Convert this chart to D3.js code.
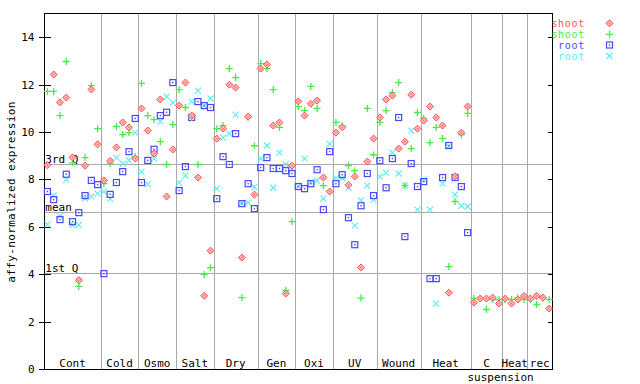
<!DOCTYPE html>
<html><head><meta charset="utf-8">
<script src="https://cdn.jsdelivr.net/npm/d3@7"></script>
<style>
body{margin:0;background:#fff;}
svg text{font-family:"DejaVu Sans Mono",monospace;font-size:11px;fill:#000;}
</style></head>
<body><svg id="c" width="640" height="384"></svg>
<script>
// groups: label and number of samples
const groupLabels = ["Cont","Cold","Osmo","Salt","Dry","Gen","Oxi","UV","Wound","Heat","C","Heat","rec"];
const groupSizes  = [9,6,6,6,7,6,6,7,7,8,5,4,4];
const seriesNames = ["shoot","shoot","root","root"];
const yTicks = [0,2,4,6,8,10,12,14];
const quantiles = [{label:"3rd Q",v:8.67},{label:"mean",v:6.62},{label:"1st Q",v:4.07}];

const shoot1 = [8.60,12.42,11.25,11.45,8.93,3.75,8.58,11.79,9.48,
 7.96,8.78,9.35,10.40,10.19,8.88,
 10.99,10.06,9.09,11.37,7.28,9.26,
 11.11,12.08,10.69,8.08,3.10,5.00,
 9.72,10.14,11.99,11.87,4.71,10.65,7.36,
 12.67,12.84,10.27,10.40,3.19,8.58,
 11.29,10.69,11.19,11.32,8.08,7.49,
 9.97,10.20,7.77,8.12,4.29,8.75,9.72,
 10.61,11.37,11.53,9.30,9.59,11.57,10.14,
 10.48,11.07,10.61,10.27,3.23,8.13,9.97,11.07,
 2.81,2.98,2.98,3.02,2.77,
 2.98,2.77,2.94,3.09,
 2.98,3.09,3.02,2.56];
const shoot2 = [11.71,11.71,10.69,12.97,8.70,3.49,8.92,11.95,10.14,
 7.82,8.67,10.23,9.89,9.97,8.96,
 12.05,10.69,10.52,9.59,8.63,10.31,
 11.78,11.03,10.61,8.63,3.99,4.28,
 10.14,10.27,12.67,12.29,3.02,10.61,9.42,
 12.88,12.67,11.78,10.19,3.32,6.22,
 11.07,10.90,11.92,10.99,7.74,7.49,
 10.40,10.26,8.58,8.37,3.00,10.99,9.04,
 10.40,10.90,11.66,12.08,7.74,9.30,10.82,
 10.57,9.55,10.19,9.72,4.33,7.07,9.89,10.78,
 2.99,2.98,2.52,2.94,2.94,
 2.94,2.94,3.02,2.94,
 2.94,2.73,3.02,2.94];
const root1 = [7.49,7.15,6.31,8.22,6.22,6.60,7.32,7.96,7.78,
 4.03,7.37,7.87,8.33,9.17,10.57,
 7.87,8.80,9.27,10.69,10.83,12.08,
 7.53,8.54,10.61,11.28,11.11,11.03,
 7.19,8.96,8.63,9.93,6.98,7.82,6.77,
 8.50,8.92,8.46,8.46,8.37,8.25,
 7.70,7.61,7.82,8.41,6.73,9.17,
 7.82,8.20,6.39,5.25,6.89,8.25,7.32,
 8.79,7.65,8.88,10.61,5.59,8.67,7.70,
 7.91,3.82,3.82,8.08,9.43,8.08,7.70,5.76];
const root2 = [6.11,7.32,6.45,7.99,6.09,6.09,7.20,7.29,7.40,
 7.49,7.18,8.92,8.67,8.80,9.97,
 8.33,7.80,8.88,10.45,11.49,11.24,
 7.87,8.16,11.28,11.74,11.11,11.41,
 7.61,9.76,9.93,10.73,7.00,7.02,7.68,
 8.88,9.43,7.65,9.13,8.63,8.43,
 7.72,8.88,7.89,7.95,7.19,9.50,
 8.06,8.06,7.65,6.05,7.12,7.74,7.15,
 8.12,8.29,9.13,8.25,7.74,10.06,6.73,
 7.99,6.73,2.77,7.82,9.39,7.36,6.89,6.86];

const colors = ["#ff5050","#44ee44","#4848ff","#55eeee"];
const shapes = ["diamond","plus","square","cross"];
const svg = d3.select("#c");
const L=44.3,R=552.3,T=13.3,B=369.3;
const nTotal = d3.sum(groupSizes);
const x = d3.scaleLinear().domain([0,nTotal]).range([L,R]);
const y = d3.scaleLinear().domain([0,15]).range([B,T]);
const grey="#aaaaaa";

const g = svg.append("g").attr("shape-rendering","crispEdges");
// group separators
let cum=0; const bounds=[];
groupSizes.forEach(s=>{bounds.push([cum,cum+s]);cum+=s;});
g.selectAll("line.sep").data(bounds.slice(1).map(b=>b[0])).join("line")
 .attr("x1",d=>Math.round(x(d))+0.5).attr("x2",d=>Math.round(x(d))+0.5)
 .attr("y1",T).attr("y2",B).attr("stroke",grey);
// quantile lines
g.selectAll("line.q").data(quantiles).join("line")
 .attr("x1",L).attr("x2",R).attr("y1",d=>Math.round(y(d.v))+0.5).attr("y2",d=>Math.round(y(d.v))+0.5)
 .attr("stroke",grey);
svg.selectAll("text.q").data(quantiles).join("text")
 .attr("x",L+1).attr("y",d=>y(d.v)-1).text(d=>d.label);

// frame
g.append("rect").attr("x",44.5).attr("y",13.5).attr("width",508).attr("height",356)
 .attr("fill","none").attr("stroke","#000");
// left axis
const ya = d3.axisLeft(y).tickValues(yTicks).tickSizeInner(6).tickSizeOuter(0).tickPadding(4);
const yg = svg.append("g").attr("transform",`translate(44.5,0)`).call(ya);
yg.select(".domain").remove();
yg.selectAll(".tick line").attr("x1",6).attr("x2",-6).attr("stroke","#000").attr("shape-rendering","crispEdges");
yg.selectAll(".tick text").attr("font-family","DejaVu Sans Mono").attr("font-size",11).attr("x",-10);
// right axis inward ticks
const ra = d3.axisRight(y).tickValues(yTicks).tickSize(-5).tickFormat("");
const rg = svg.append("g").attr("transform",`translate(552.5,0)`).call(ra);
rg.select(".domain").remove();
rg.selectAll(".tick line").attr("stroke","#000").attr("shape-rendering","crispEdges");

// y label
svg.append("text").attr("transform","translate(15,192) rotate(-90)")
 .attr("text-anchor","middle").style("letter-spacing","0.35px").text("affy-normalized expression");

// group labels
svg.selectAll("text.gl").data(bounds).join("text")
 .attr("x",(d)=>x((d[0]+d[1])/2)).attr("y",367).attr("text-anchor","middle")
 .text((d,i)=>groupLabels[i]);
svg.append("text").attr("x",467.5).attr("y",381).text("suspension");

// markers
function drawMarker(sel,shape,color){
  if(shape==="diamond"){
    sel.append("path").attr("d","M0,-3.5L3.5,0L0,3.5L-3.5,0Z").attr("fill","#ffb0b0").attr("stroke",color).attr("stroke-width",1);
    sel.append("rect").attr("x",-0.5).attr("y",-0.5).attr("width",1).attr("height",1).attr("fill",color);
  } else if(shape==="plus"){
    sel.append("path").attr("d","M-3.5,0H3.5M0,-3.5V3.5").attr("stroke",color).attr("stroke-width",1.3);
  } else if(shape==="square"){
    sel.append("rect").attr("x",-3).attr("y",-3).attr("width",6).attr("height",6).attr("fill","none").attr("stroke",color).attr("stroke-width",1.2);
    sel.append("rect").attr("x",-0.7).attr("y",-0.7).attr("width",1.4).attr("height",1.4).attr("fill",color);
  } else {
    sel.append("path").attr("d","M-3,-3L3,3M-3,3L3,-3").attr("stroke",color).attr("stroke-width",1.1);
  }
}
const allSeries=[shoot1,shoot2,root1,root2];
[3,2,1,0].forEach(si=>{
  const data=allSeries[si].map((v,i)=>({i,v}));
  svg.append("g").selectAll("g").data(data).join("g")
   .attr("transform",d=>`translate(${x(d.i+0.5)},${y(d.v)})`)
   .each(function(){drawMarker(d3.select(this),shapes[si],colors[si]);});
});

// legend
const lg = svg.append("g");
seriesNames.forEach((n,i)=>{
  const cy=[23.3,34.3,45,56][i];
  lg.append("text").attr("x",585).attr("y",cy+3.5).attr("text-anchor","end")
   .style("fill",colors[i]).style("font-size","10px").style("letter-spacing","0.7px").text(n);
  const m=lg.append("g").attr("transform",`translate(609.5,${cy})`);
  drawMarker(m,shapes[i],colors[i]);
});
</script></body></html>
